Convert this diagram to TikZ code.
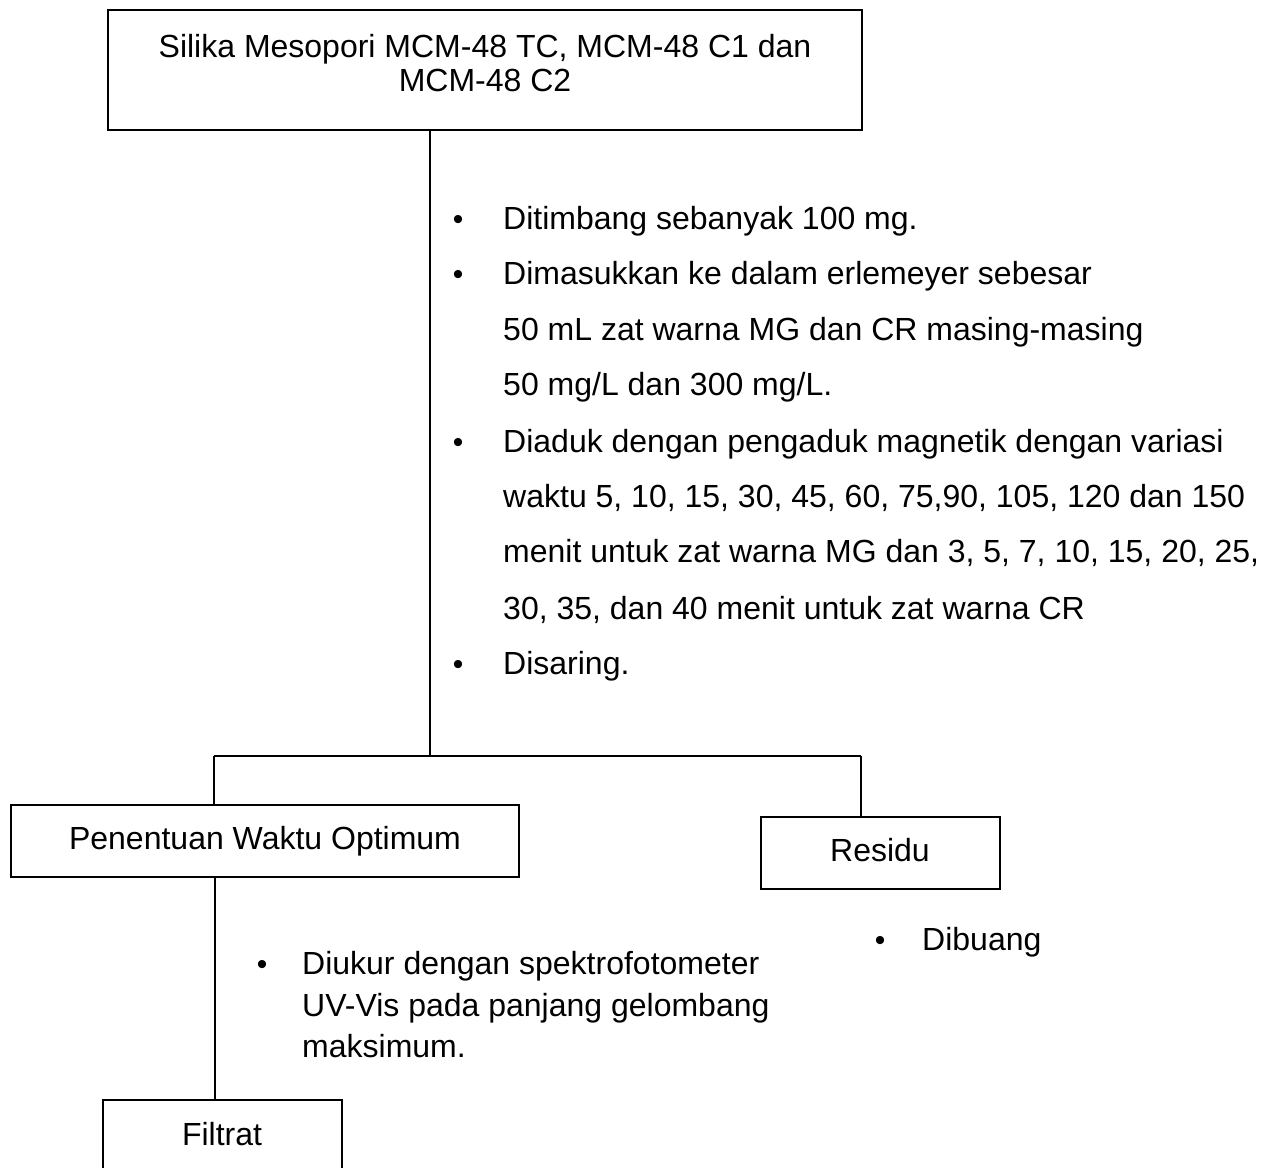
\documentclass[tikz,border=0pt]{standalone}
\usepackage{fontspec}
\setmainfont{Liberation Sans}
\begin{document}
\begin{tikzpicture}[x=1pt,y=-1pt,
  box/.style={draw,line width=1.3pt,inner sep=0pt,outer sep=0pt},
  ln/.style={line width=1.2pt},
  txt/.style={anchor=base west,inner sep=0pt,font=\fontsize{32}{38}\selectfont},
  ctxt/.style={anchor=base,inner sep=0pt,font=\fontsize{32}{38}\selectfont},
  bul/.style={anchor=base,inner sep=0pt,font=\fontsize{30}{36}\selectfont}]
\useasboundingbox (0,0) rectangle (1276,1167);
% boxes
\node[box,minimum width=754pt,minimum height=120pt] (top) at (485,70) {};
\node[ctxt] (t1) at (485,57) {Silika Mesopori MCM-48 TC, MCM-48 C1 dan};
\node[ctxt] (t2) at (485,91) {MCM-48 C2};
\node[box,minimum width=508pt,minimum height=72pt] (pen) at (265,841) {};
\node[ctxt] (pent) at (265,849) {Penentuan Waktu Optimum};
\node[box,minimum width=239pt,minimum height=72pt] (res) at (880.5,853) {};
\node[ctxt] (rest) at (880,861) {Residu};
\node[box,minimum width=239pt,minimum height=90pt] (fil) at (222.5,1145) {};
\node[ctxt] (filt) at (222,1145) {Filtrat};
% connectors
\coordinate (j) at (430,756);
\coordinate (jl) at (214,756);
\coordinate (jr) at (861,756);
\draw[ln] (top.south -| j) -- (j);
\draw[ln] (jl) -- (jr);
\draw[ln] (jl) -- (jl |- pen.north);
\draw[ln] (jr) -- (jr |- res.north);
\draw[ln] (pen.south -| 215,0) -- (fil.north -| 215,0);
% list 1
\node[bul] (b1) at (458,229) {•};
\node[txt] (l1) at (503,229) {Ditimbang sebanyak 100 mg.};
\node[bul] (b2) at (458,284) {•};
\node[txt] (l2) at (503,284) {Dimasukkan ke dalam erlemeyer sebesar};
\node[txt] (l3) at (503,340) {50 mL zat warna MG dan CR masing-masing};
\node[txt] (l4) at (503,395) {50 mg/L dan 300 mg/L.};
\node[bul] (b3) at (458,452) {•};
\node[txt] (l5) at (503,452) {Diaduk dengan pengaduk magnetik dengan variasi};
\node[txt] (l6) at (503,507) {waktu 5, 10, 15, 30, 45, 60, 75,90, 105, 120 dan 150};
\node[txt] (l7) at (503,562) {menit untuk zat warna MG dan 3, 5, 7, 10, 15, 20, 25,};
\node[txt] (l8) at (503,619) {30, 35, dan 40 menit untuk zat warna CR};
\node[bul] (b4) at (458,674) {•};
\node[txt] (l9) at (503,674) {Disaring.};
% list 2
\node[bul] (b5) at (262,974) {•};
\node[txt] (m1) at (302,974) {Diukur dengan spektrofotometer};
\node[txt] (m2) at (302,1016) {UV-Vis pada panjang gelombang};
\node[txt] (m3) at (302,1057) {maksimum.};
% list 3
\node[bul] (b6) at (880,950) {•};
\node[txt] (d1) at (922,950) {Dibuang};
\end{tikzpicture}
\end{document}
